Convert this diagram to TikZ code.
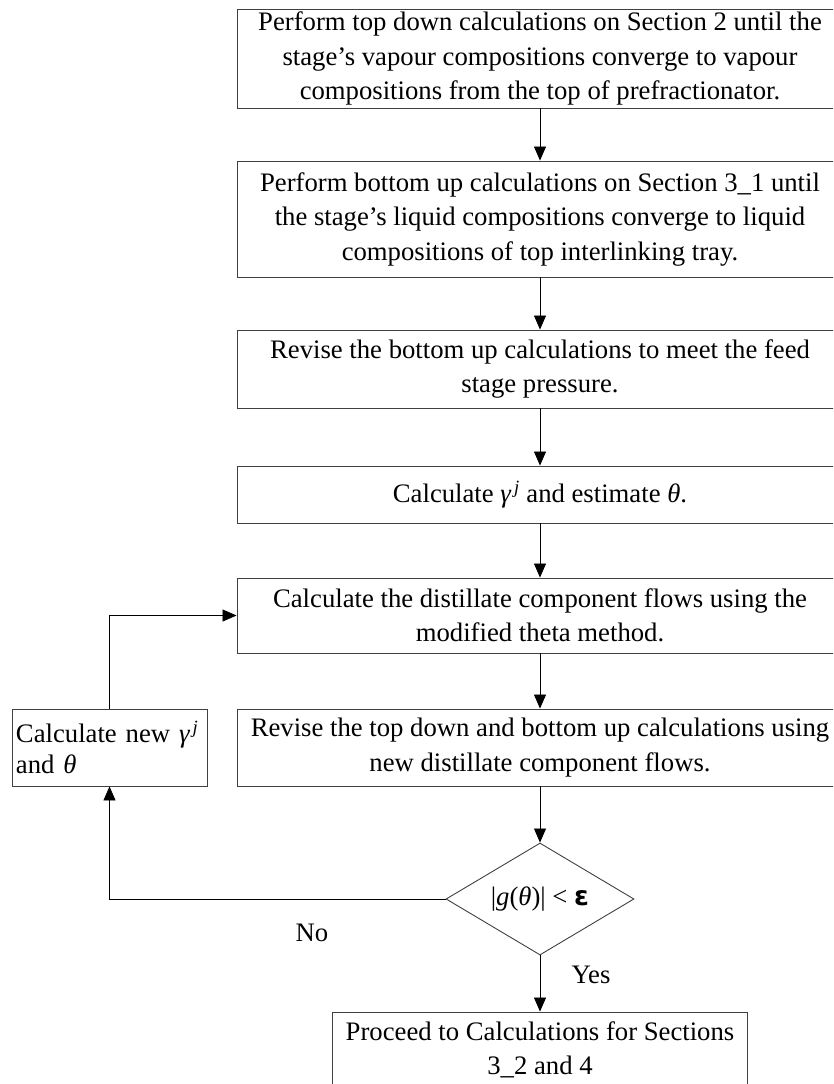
\documentclass[tikz,border=0pt]{standalone}
\usepackage{fontspec}
\setmainfont{Liberation Serif}
\newfontfamily\symfont{DejaVu Sans}
\usetikzlibrary{arrows.meta,shapes.geometric}
\begin{document}
\begin{tikzpicture}[x=1pt,y=-1pt,
  txt/.style={font=\fontsize{26.7}{34.5}\selectfont, inner sep=0pt},
  box/.style={txt, draw=black!75, line width=0.9pt, align=center},
  mainbox/.style={box, minimum width=606},
  flow/.style={draw=black, line width=0.8pt, -{Triangle[length=14pt,width=12pt]}}
]
% the sheet is trimmed on the right and at the bottom
\clip (0,0) rectangle (833,1084);

% process boxes of the main column
\node[mainbox, minimum height=99]  (b1) at (540,58.5)
  {Perform top down calculations on Section 2 until the\\
   stage’s vapour compositions converge to vapour\\
   compositions from the top of prefractionator.};
\node[mainbox, minimum height=116] (b2) at (540,219)
  {Perform bottom up calculations on Section 3\_1 until\\
   the stage’s liquid compositions converge to liquid\\
   compositions of top interlinking tray.};
\node[mainbox, minimum height=78]  (b3) at (540,369)
  {Revise the bottom up calculations to meet the feed\\
   stage pressure.};
\node[mainbox, minimum height=57]  (b4) at (540,494.5)
  {Calculate {\itshape γ}\textsuperscript{\itshape\,j} and estimate {\itshape θ}.};
\node[mainbox, minimum height=75]  (b5) at (540,615.5)
  {Calculate the distillate component flows using the\\
   modified theta method.};
\node[mainbox, minimum height=77]  (b6) at (540,747.5)
  {Revise the top down and bottom up calculations using\\
   new distillate component flows.};

% side box of the iteration loop
\node[box, font=\fontsize{26.7}{31}\selectfont, align=left, minimum width=195,
  minimum height=77, text width=187] (lb) at (109.5,747.5)
  {Calculate new {\itshape γ}\textsuperscript{\itshape\,j}\\ and {\itshape θ}};

% convergence test
\node[txt, draw=black!75, line width=0.9pt, diamond, aspect=1.68,
  minimum width=188, minimum height=112] (dia) at (540,899)
  {|{\itshape g}({\itshape θ})| < {\symfont\bfseries ε}};

% final box, running past the lower edge
\node[box, minimum width=415, minimum height=76] (b7) at (540,1050)
  {Proceed to Calculations for Sections\\ 3\_2 and 4};

% connectors
\draw[flow] (b1) -- (b2);
\draw[flow] (b2) -- (b3);
\draw[flow] (b3) -- (b4);
\draw[flow] (b4) -- (b5);
\draw[flow] (b5) -- (b6);
\draw[flow] (b6) -- (dia);
\draw[flow] (dia) -- (b7);
\draw[flow] (dia.west) -| (lb.south);
\draw[flow] (lb.north) |- (b5.west);

\node[txt] (no)  at (312,933) {No};
\node[txt] (yes) at (591,975) {Yes};
\end{tikzpicture}
\end{document}
